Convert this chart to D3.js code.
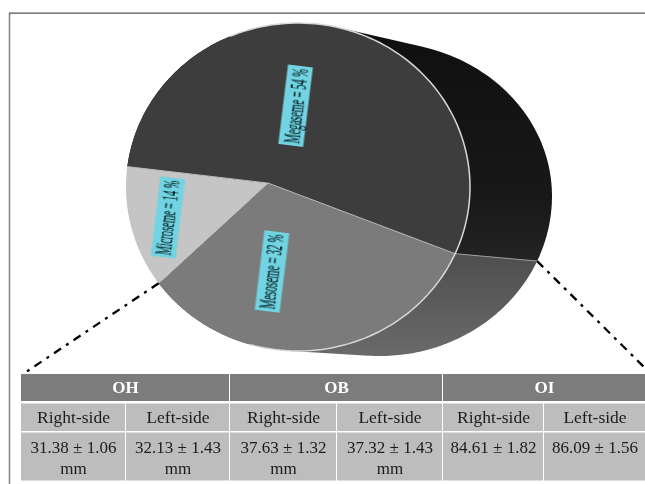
<!DOCTYPE html>
<html><head><meta charset="utf-8">
<script src="https://cdnjs.cloudflare.com/ajax/libs/d3/7.8.5/d3.min.js"></script>
<style>html,body{margin:0;padding:0;background:#fff}svg{display:block}text{font-family:"Liberation Serif",serif}</style>
</head><body><svg id="c" width="645" height="484"></svg>
<script>
// ---- data ----
const categories = ["Mesoseme", "Microseme", "Megaseme"];
const shares = [32, 14, 54];
const groupNames = ["OH", "OB", "OI"];
const sideNames = ["Right-side", "Left-side", "Right-side", "Left-side", "Right-side", "Left-side"];
const means = [31.38, 32.13, 37.63, 37.32, 84.61, 86.09];
const deviations = [1.06, 1.43, 1.32, 1.43, 1.82, 1.56];
const units = ["mm", "mm", "mm", "mm", "", ""];

// ---- layout ----
const svg = d3.select("#c");
const front = {cx: 298, cy: 187, rx: 172, ry: 164, ryUp: 164};
const back = {cx: 380, cy: 196, rx: 172, ry: 160, ryUp: 154};
const apex = [-0.174, -0.024];
const startDeg = 111.4;
const faceFill = {Mesoseme: "#7b7b7b", Microseme: "#c5c5c5", Megaseme: "#3d3d3d"};
const labelBox = {
  Megaseme: {x: 295.6, y: 105.7, a: -83},
  Mesoseme: {x: 272, y: 271.5, a: -83},
  Microseme: {x: 168, y: 217.5, a: -83}
};
const colEdge = d3.scaleOrdinal().domain(d3.range(7)).range([21, 126, 230, 337, 443, 544, 646]);
const rowY = {headTop: 374, headBot: 401, sideTop: 403.5, sideBot: 431, valTop: 432.5, valBot: 480.5};

// perspective map of a pie on the unit disc into an ellipse
function project(a, e) {
  const u = Math.sin(a), v = -Math.cos(a);
  const q2 = apex[0] * apex[0] + apex[1] * apex[1];
  const d = u * apex[0] + v * apex[1];
  const k = Math.sqrt(1 - q2);
  const parX = apex[0] * d / q2, parY = apex[1] * d / q2;
  const x = (parX + apex[0] + k * (u - parX)) / (1 + d);
  const y = (parY + apex[1] + k * (v - parY)) / (1 + d);
  return [e.cx + e.rx * x, e.cy + (y < 0 ? e.ryUp : e.ry) * y];
}
const rim = (s, e, t, n = 120) => d3.range(n + 1).map(i => project(s + (t - s) * i / n, e));
const line = d3.line();
const arcs = d3.pie().sort(null).value(d => d.v)
  .startAngle(startDeg * Math.PI / 180).endAngle((startDeg + 360) * Math.PI / 180)
  (categories.map((c, i) => ({c, v: shares[i]})));

// gradients
const defs = svg.append("defs");
function grad(id, stops) {
  const g = defs.append("linearGradient").attr("id", id).attr("gradientUnits", "userSpaceOnUse")
    .attr("x1", 0).attr("x2", 0).attr("y1", 40).attr("y2", 356);
  stops.forEach(s => g.append("stop").attr("offset", s[0]).attr("stop-color", s[1]));
}
grad("sideDark", [[0, "#101010"], [0.5, "#181818"], [0.72, "#252525"], [1, "#2a2a2a"]]);
grad("sideMid", [[0, "#4a4a4a"], [0.7, "#505050"], [1, "#6a6a6a"]]);
const sideFill = {Mesoseme: "url(#sideMid)", Microseme: "#999", Megaseme: "url(#sideDark)"};

// frame
svg.append("line").attr("x1", 9.5).attr("x2", 9.5).attr("y1", 13).attr("y2", 484).attr("stroke", "#8a8a8a").attr("stroke-width", 1.6);
svg.append("line").attr("x1", 9).attr("x2", 645).attr("y1", 13.2).attr("y2", 13.2).attr("stroke", "#555").attr("stroke-width", 1.3);

// side of the cylinder: convex hull of a slice's front and back rims
svg.append("g").selectAll("path").data(arcs.filter(d => d.data.c !== "Microseme")).join("path")
  .attr("d", d => line(d3.polygonHull(rim(d.startAngle, back, d.endAngle).concat(rim(d.startAngle, front, d.endAngle)))) + "Z")
  .attr("fill", d => sideFill[d.data.c]);
// side divider
const cut = arcs[0].startAngle;
svg.append("path").attr("d", line([project(cut, front), project(cut, back)]))
  .attr("stroke", "#9a9a9a").attr("stroke-width", 1).attr("fill", "none");

// front face
const apexPt = [front.cx + front.rx * apex[0], front.cy + front.ry * apex[1]];
svg.append("g").selectAll("path").data(arcs).join("path")
  .attr("d", d => line([apexPt].concat(rim(d.startAngle, front, d.endAngle))) + "Z")
  .attr("fill", d => faceFill[d.data.c]);
// dividers
svg.append("g").selectAll("path").data(arcs).join("path")
  .attr("d", d => line([apexPt, project(d.startAngle, front)]))
  .attr("stroke", "#bdbdbd").attr("stroke-width", 1).attr("fill", "none");
// rim highlight
svg.append("path").attr("d", line(rim(arcs[2].startAngle + 1.2, front, arcs[2].endAngle + 1.3)))
  .attr("stroke", "#d8d8d8").attr("stroke-width", 1.5).attr("fill", "none");

// leader lines
const dash = "8.5 6 3 6";
[[arcs[1].startAngle, front, 26, 372], [cut, back, 645, 368]].forEach(l => {
  const p = project(l[0], l[1]);
  svg.append("line").attr("x1", p[0]).attr("y1", p[1]).attr("x2", l[2]).attr("y2", l[3])
    .attr("stroke", "#000").attr("stroke-width", 2.3).attr("stroke-dasharray", dash);
});

// labels
const lab = svg.append("g").selectAll("g").data(arcs).join("g")
  .attr("transform", d => { const b = labelBox[d.data.c]; return `translate(${b.x},${b.y}) rotate(${b.a})`; });
lab.append("rect").attr("x", -40).attr("y", -12.5).attr("width", 80).attr("height", 25).attr("fill", "#72d4e2");
lab.append("text").attr("text-anchor", "middle").attr("font-size", 24)
  .attr("fill", "#041f22").attr("stroke", "#041f22").attr("stroke-width", 0.35)
  .text(d => `${d.data.c} = ${d.data.v} %`)
  .attr("transform", function () { return `translate(0,7.5) scale(${75 / this.getComputedTextLength()},1)`; });

// table
const tb = svg.append("g");
defs.append("filter").attr("id", "soft").append("feGaussianBlur").attr("stdDeviation", 0.35);
groupNames.forEach((g, i) => {
  const x0 = colEdge(i * 2), x1 = colEdge(i * 2 + 2);
  tb.append("rect").attr("x", x0).attr("y", rowY.headTop).attr("width", x1 - x0 - 1).attr("height", rowY.headBot - rowY.headTop).attr("fill", "#7c7c7c");
  tb.append("text").attr("x", (x0 + x1) / 2).attr("y", 393).attr("text-anchor", "middle")
    .attr("font-size", 17).attr("font-weight", "bold").attr("fill", "#fff").text(g);
});
sideNames.forEach((s, i) => {
  const x0 = colEdge(i), x1 = colEdge(i + 1), cx = (x0 + x1) / 2;
  tb.append("rect").attr("x", x0).attr("y", rowY.sideTop).attr("width", x1 - x0 - 1).attr("height", rowY.sideBot - rowY.sideTop).attr("fill", "#bdbdbd");
  tb.append("rect").attr("x", x0).attr("y", rowY.valTop).attr("width", x1 - x0 - 1).attr("height", rowY.valBot - rowY.valTop).attr("fill", "#bdbdbd");
  tb.append("text").attr("x", cx).attr("y", 423).attr("text-anchor", "middle").attr("font-size", 17.5).attr("fill", "#1c1c1c").text(s);
  tb.append("text").attr("x", cx).attr("y", 452.5).attr("text-anchor", "middle").attr("font-size", 17).attr("fill", "#1c1c1c")
    .text(`${means[i].toFixed(2)} ± ${deviations[i].toFixed(2)}`);
  if (units[i]) tb.append("text").attr("x", cx).attr("y", 473.5).attr("text-anchor", "middle").attr("font-size", 17).attr("fill", "#1c1c1c").text(units[i]);
});
tb.attr("filter", "url(#soft)");
lab.attr("filter", "url(#soft)");
</script></body></html>
